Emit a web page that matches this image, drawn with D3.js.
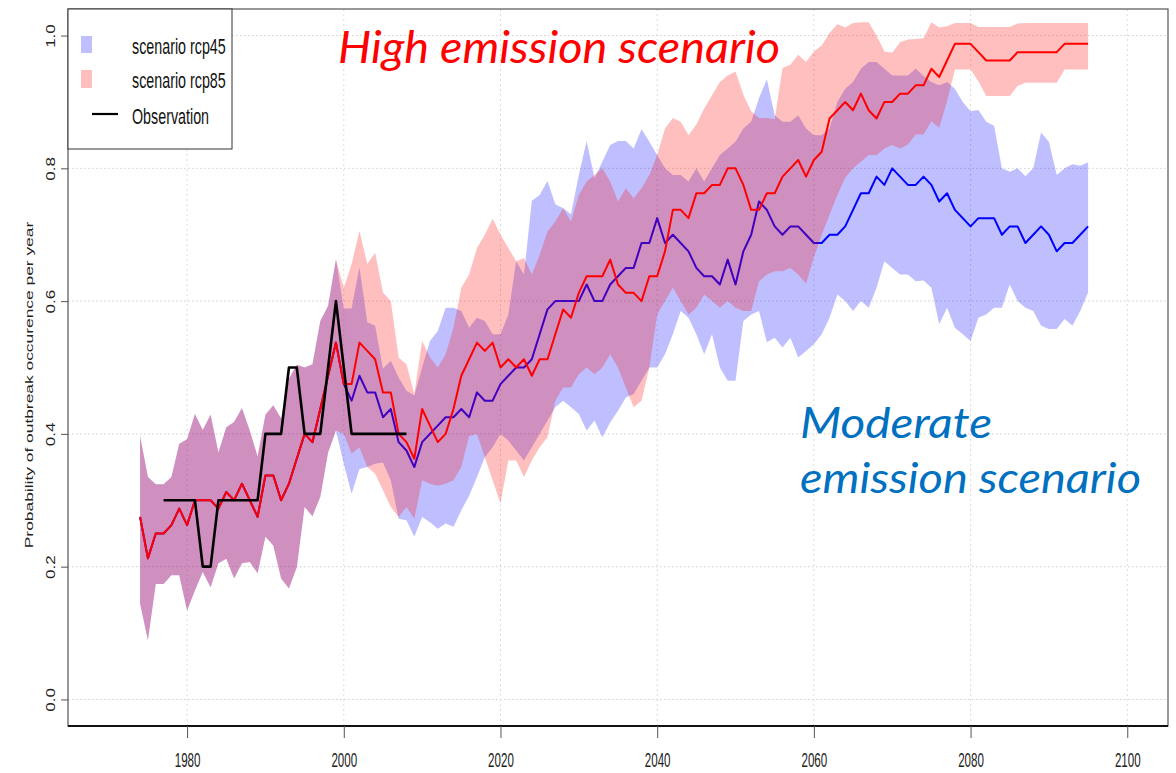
<!DOCTYPE html>
<html>
<head>
<meta charset="utf-8">
<script src="https://cdn.jsdelivr.net/npm/d3@7"></script>
<style>
  html, body { margin: 0; padding: 0; background: #fff; }
  svg { display: block; }
</style>
</head>
<body>
<svg id="chart" width="1176" height="773"></svg>
<script>
// Yearly outbreak probability, 1974-2095
const years = d3.range(1974, 2096);

// shared historical run (1974-1999) used by both scenarios
const histMean  = [0.275,0.2125,0.25,0.25,0.2625,0.2875,0.2625,0.3,0.3,0.3,0.2875,0.3125,0.3,0.325,0.3,0.275,0.3375,0.3375,0.3,0.325,0.3625,0.4,0.3875,0.4375,0.4875,0.5375];
const histUpper = [0.397,0.335,0.324,0.324,0.335,0.385,0.392,0.43,0.406,0.429,0.372,0.41,0.418,0.439,0.405,0.366,0.429,0.443,0.423,0.483,0.504,0.5,0.505,0.57,0.593,0.663];
const histLower = [0.144,0.089,0.174,0.174,0.187,0.187,0.134,0.164,0.192,0.169,0.205,0.212,0.182,0.205,0.207,0.19,0.245,0.232,0.182,0.167,0.199,0.29,0.276,0.305,0.372,0.405];

// scenario rcp85, 2000-2095
const rcp85Mean = [0.475,0.475,0.5375,0.525,0.5125,0.4625,0.4625,0.4,0.3875,0.3625,
  0.4375,0.4125,0.3875,0.4,0.4375,0.4875,0.5125,0.5375,0.525,0.5375,
  0.5,0.5125,0.5,0.5125,0.4875,0.5125,0.5125,0.55,0.5875,0.575,
  0.6125,0.6375,0.6375,0.6375,0.6625,0.625,0.6125,0.6125,0.6,0.6375,
  0.6375,0.675,0.7375,0.7375,0.725,0.7625,0.7625,0.775,0.775,0.8,
  0.8,0.775,0.7375,0.7375,0.7625,0.7625,0.7875,0.8,0.8125,0.7875,
  0.8125,0.825,0.875,0.8875,0.9,0.8875,0.9125,0.8875,0.875,0.9,
  0.9,0.9125,0.9125,0.925,0.925,0.95,0.9375,0.9625,0.9875,0.9875,
  0.9875,0.975,0.9625,0.9625,0.9625,0.9625,0.975,0.975,0.975,0.975,
  0.975,0.975,0.9875,0.9875,0.9875,0.9875];
const rcp85Upper = [0.62,0.656,0.706,0.656,0.673,0.613,0.6,0.515,0.505,0.46,
  0.54,0.515,0.5,0.52,0.56,0.62,0.64,0.68,0.7,0.724,
  0.7,0.68,0.66,0.665,0.64,0.67,0.705,0.72,0.74,0.72,
  0.76,0.78,0.79,0.8,0.78,0.75,0.77,0.755,0.77,0.79,
  0.82,0.86,0.876,0.87,0.85,0.866,0.89,0.91,0.93,0.94,
  0.946,0.911,0.886,0.876,0.876,0.874,0.951,0.956,0.971,0.96,
  0.976,0.985,1.004,1.017,1.012,1.019,1.02,1.02,1.0,0.976,
  0.974,0.99,0.994,0.995,0.996,1.02,1.012,1.014,1.019,1.019,
  1.019,1.013,1.013,1.013,1.013,1.013,1.018,1.019,1.019,1.019,
  1.019,1.019,1.019,1.019,1.019,1.019];
const rcp85Lower = [0.4,0.37,0.38,0.35,0.34,0.315,0.29,0.275,0.29,0.272,
  0.33,0.325,0.322,0.325,0.33,0.35,0.397,0.4,0.365,0.33,
  0.295,0.36,0.36,0.335,0.36,0.38,0.395,0.45,0.47,0.47,
  0.49,0.5,0.49,0.5,0.52,0.5,0.47,0.44,0.45,0.5,
  0.58,0.6,0.62,0.6,0.58,0.59,0.61,0.6,0.59,0.6,
  0.59,0.585,0.585,0.63,0.64,0.645,0.645,0.65,0.64,0.626,
  0.666,0.7,0.73,0.76,0.786,0.8,0.81,0.82,0.82,0.83,
  0.835,0.83,0.836,0.851,0.851,0.871,0.861,0.901,0.949,0.949,
  0.949,0.931,0.909,0.909,0.909,0.909,0.924,0.929,0.929,0.929,
  0.929,0.929,0.949,0.949,0.949,0.949];

// scenario rcp45, 2000-2095
const rcp45Mean = [0.475,0.45,0.4875,0.4625,0.4625,0.425,0.4375,0.3875,0.375,0.35,
  0.3875,0.4,0.4125,0.425,0.425,0.4375,0.425,0.4625,0.45,0.45,
  0.475,0.4875,0.5,0.5,0.5125,0.55,0.5875,0.6,0.6,0.6,
  0.6,0.625,0.6,0.6,0.625,0.6375,0.65,0.65,0.6875,0.6875,
  0.725,0.6875,0.7,0.6875,0.675,0.65,0.6375,0.6375,0.625,0.6625,
  0.625,0.675,0.7,0.75,0.7375,0.7125,0.7,0.7125,0.7125,0.7,
  0.6875,0.6875,0.7,0.7,0.7125,0.7375,0.7625,0.7625,0.7875,0.775,
  0.8,0.7875,0.775,0.775,0.7875,0.775,0.75,0.7625,0.7375,0.725,
  0.7125,0.725,0.725,0.725,0.7,0.7125,0.7125,0.6875,0.7,0.7125,
  0.7,0.675,0.6875,0.6875,0.7,0.7125];
const rcp45Upper = [0.589,0.589,0.651,0.568,0.563,0.498,0.51,0.485,0.465,0.458,
  0.5,0.54,0.555,0.59,0.59,0.585,0.56,0.575,0.57,0.55,
  0.55,0.58,0.66,0.64,0.751,0.76,0.781,0.746,0.74,0.731,
  0.79,0.841,0.785,0.81,0.835,0.841,0.841,0.83,0.859,0.84,
  0.82,0.8,0.79,0.79,0.78,0.8,0.78,0.8,0.82,0.83,
  0.84,0.86,0.87,0.906,0.934,0.88,0.87,0.87,0.88,0.86,
  0.85,0.85,0.86,0.9,0.92,0.93,0.95,0.96,0.96,0.95,
  0.94,0.94,0.94,0.95,0.939,0.93,0.925,0.93,0.92,0.9,
  0.886,0.888,0.87,0.864,0.8,0.795,0.8,0.788,0.8,0.854,
  0.84,0.79,0.8,0.806,0.804,0.809];
const rcp45Lower = [0.355,0.31,0.347,0.35,0.355,0.357,0.33,0.272,0.27,0.245,
  0.275,0.267,0.257,0.265,0.26,0.285,0.307,0.335,0.365,0.38,
  0.4,0.39,0.375,0.36,0.38,0.4,0.42,0.44,0.45,0.44,
  0.43,0.405,0.42,0.395,0.417,0.435,0.455,0.46,0.48,0.5,
  0.5,0.52,0.55,0.585,0.575,0.55,0.52,0.55,0.5,0.48,
  0.48,0.57,0.58,0.585,0.538,0.545,0.53,0.545,0.515,0.525,
  0.535,0.55,0.575,0.61,0.6,0.585,0.6,0.59,0.62,0.66,
  0.65,0.64,0.64,0.63,0.631,0.62,0.565,0.59,0.56,0.55,
  0.54,0.575,0.58,0.59,0.59,0.625,0.6,0.59,0.585,0.563,
  0.558,0.558,0.573,0.563,0.585,0.613];

// observed outbreak frequency
const obsYears  = d3.range(1977, 2009);
const obsValues = [0.3,0.3,0.3,0.3,0.3,0.2,0.2,0.3,0.3,0.3,0.3,0.3,0.3,0.4,0.4,0.4,0.5,0.5,0.4,0.4,0.4,0.5,0.6,0.5,0.4,0.4,0.4,0.4,0.4,0.4,0.4,0.4];

const xTicks = [1980, 2000, 2020, 2040, 2060, 2080, 2100];
const yTicks = [0.0, 0.2, 0.4, 0.6, 0.8, 1.0];
const legendLabels = ["scenario rcp45", "scenario rcp85", "Observation"];

// ---- build series rows ----
function rows(mean, upper, lower) {
  const m = histMean.concat(mean), u = histUpper.concat(upper), l = histLower.concat(lower);
  return years.map((yr, i) => ({ year: yr, mean: m[i], upper: u[i], lower: l[i] }));
}
const rcp45 = rows(rcp45Mean, rcp45Upper, rcp45Lower);
const rcp85 = rows(rcp85Mean, rcp85Upper, rcp85Lower);
const obs = obsYears.map((yr, i) => ({ year: yr, value: obsValues[i] }));

// ---- layout ----
const svg = d3.select("#chart");
const plot = { left: 68, right: 1168, top: 9, bottom: 726 };
const x = d3.scaleLinear().domain([1964.8, 2105.2]).range([plot.left, plot.right]);
const y = d3.scaleLinear().domain([-0.04, 1.04]).range([plot.bottom, plot.top]);

const FONT = "'Liberation Sans', Arial, Helvetica, sans-serif";
const blueFill = "rgba(0,0,255,0.25)";
const redFill = "rgba(255,0,0,0.25)";

// grid
const grid = svg.append("g");
grid.selectAll("line.h").data(yTicks).join("line")
  .attr("x1", plot.left).attr("x2", plot.right)
  .attr("y1", d => y(d)).attr("y2", d => y(d))
  .attr("stroke", "#cfcfcf").attr("stroke-width", 1).attr("stroke-dasharray", "1.5,2.5");
grid.selectAll("line.v").data(xTicks).join("line")
  .attr("x1", d => x(d)).attr("x2", d => x(d))
  .attr("y1", plot.top).attr("y2", plot.bottom)
  .attr("stroke", "#dcdcdc").attr("stroke-width", 1).attr("stroke-dasharray", "2,3");

// bands and lines
const area = d3.area().x(d => x(d.year)).y0(d => y(d.lower)).y1(d => y(d.upper));
const meanLine = d3.line().x(d => x(d.year)).y(d => y(d.mean));

svg.append("path").datum(rcp45).attr("d", area).attr("fill", blueFill);
svg.append("path").datum(rcp45).attr("d", meanLine)
  .attr("fill", "none").attr("stroke", "#0000ff").attr("stroke-width", 2).attr("stroke-linejoin", "round");
svg.append("path").datum(rcp85).attr("d", area).attr("fill", redFill);
svg.append("path").datum(rcp85).attr("d", meanLine)
  .attr("fill", "none").attr("stroke", "#ff0000").attr("stroke-width", 2).attr("stroke-linejoin", "round");
svg.append("path").datum(obs)
  .attr("d", d3.line().x(d => x(d.year)).y(d => y(d.value)))
  .attr("fill", "none").attr("stroke", "#000").attr("stroke-width", 2.6).attr("stroke-linejoin", "round");

// frame
svg.append("rect")
  .attr("x", plot.left).attr("y", plot.top)
  .attr("width", plot.right - plot.left).attr("height", plot.bottom - plot.top)
  .attr("fill", "none").attr("stroke", "#555").attr("stroke-width", 1.2);
svg.append("line")
  .attr("x1", plot.left).attr("x2", plot.right)
  .attr("y1", plot.bottom).attr("y2", plot.bottom)
  .attr("stroke", "#111").attr("stroke-width", 2);

// x axis
const xAxis = svg.append("g").attr("transform", `translate(0,${plot.bottom})`)
  .call(d3.axisBottom(x).tickValues(xTicks).tickSize(12).tickFormat(d3.format("d")));
xAxis.select(".domain").remove();
xAxis.selectAll(".tick line").attr("stroke", "#555");
xAxis.selectAll(".tick text")
  .attr("y", 0).attr("dy", 0)
  .attr("transform", "translate(0,41) scale(0.58,1)")
  .attr("font-family", FONT).attr("font-size", 20).attr("fill", "#222");

// y axis
const yAxis = svg.append("g").attr("transform", `translate(${plot.left},0)`)
  .call(d3.axisLeft(y).tickValues(yTicks).tickSize(7).tickFormat(d3.format(".1f")));
yAxis.select(".domain").remove();
yAxis.selectAll(".tick line").attr("stroke", "#555");
yAxis.selectAll(".tick text")
  .attr("x", 0).attr("dy", 0)
  .attr("text-anchor", "middle")
  .attr("transform", "translate(-13,0) scale(0.72,1) rotate(-90)")
  .attr("font-family", FONT).attr("font-size", 17).attr("fill", "#222");

// y title
svg.append("text")
  .attr("transform", "translate(33,385) scale(0.6,1) rotate(-90)")
  .attr("text-anchor", "middle")
  .attr("font-family", FONT).attr("font-size", 17.4).attr("fill", "#222")
  .text("Probability of outbreak occurence per year");

// legend
const lg = svg.append("g");
lg.append("rect").attr("x", plot.left).attr("y", plot.top).attr("width", 164).attr("height", 140)
  .attr("fill", "#fff").attr("stroke", "#333").attr("stroke-width", 1);
lg.append("rect").attr("x", 81).attr("y", 36).attr("width", 11).attr("height", 17).attr("fill", blueFill);
lg.append("rect").attr("x", 81).attr("y", 70).attr("width", 11).attr("height", 18).attr("fill", redFill);
lg.append("line").attr("x1", 92).attr("x2", 118).attr("y1", 114).attr("y2", 114)
  .attr("stroke", "#000").attr("stroke-width", 2.2);
lg.selectAll("text").data(legendLabels).join("text")
  .attr("transform", (d, i) => `translate(132,${[54, 88, 124][i]}) scale(0.65,1)`)
  .attr("font-family", FONT).attr("font-size", 22).attr("fill", "#111")
  .text(d => d);

// scenario annotations
const ANN = "Lato, 'Open Sans', 'DejaVu Sans', sans-serif";
svg.append("text").attr("x", 338).attr("y", 63)
  .attr("font-family", ANN).attr("font-style", "italic").attr("font-size", 44)
  .attr("fill", "#ff0000").attr("textLength", 442).attr("lengthAdjust", "spacingAndGlyphs")
  .text("High emission scenario");
svg.append("text").attr("x", 800).attr("y", 438)
  .attr("font-family", ANN).attr("font-style", "italic").attr("font-size", 42)
  .attr("fill", "#0070c0").attr("textLength", 192).attr("lengthAdjust", "spacingAndGlyphs")
  .text("Moderate");
svg.append("text").attr("x", 800).attr("y", 493)
  .attr("font-family", ANN).attr("font-style", "italic").attr("font-size", 42)
  .attr("fill", "#0070c0").attr("textLength", 341).attr("lengthAdjust", "spacingAndGlyphs")
  .text("emission scenario");
</script>
</body>
</html>
